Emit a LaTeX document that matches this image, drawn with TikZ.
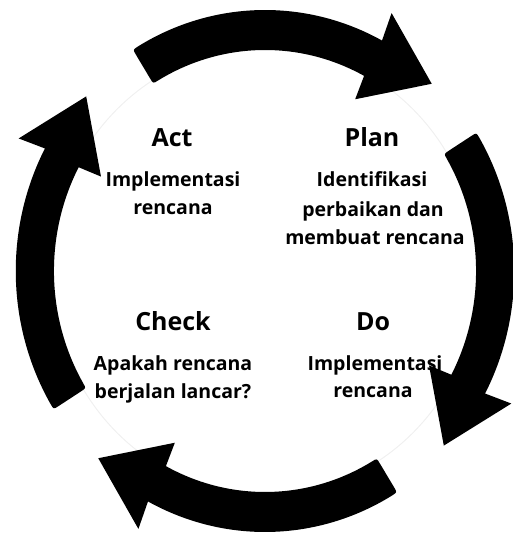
\documentclass[tikz,border=0pt]{standalone}
\usepackage{fontspec}
\setmainfont{Open Sans}

% One curved cycle arrow: #1 tail angle, #2 angle where the head starts, #3 tip angle
\newcommand\cyclearrow[3]{%
  \fill[ring]
    (#1-1.3:261) arc[start angle=#1-1.3, end angle=#2, radius=261]
    -- (#2+0.8:290) -- (#3:256) -- (#2-0.8:196) -- (#2:221)
    arc[start angle=#2, end angle=#1-1.5, radius=221]
    .. controls (#1:221) .. (#1:227) -- (#1:255)
    .. controls (#1:261) .. (#1-1.3:261) -- cycle;}

\begin{document}
\begin{tikzpicture}[x=1pt, y=1pt,
  phase/.style={font=\fontsize{25}{30}\selectfont\bfseries, anchor=base, inner sep=0pt},
  note/.style={font=\fontsize{19.5}{24}\selectfont\bfseries, anchor=base, inner sep=0pt},
  ring/.style={fill=black},
  guide/.style={draw=black!6, line width=1pt}]
\useasboundingbox (0,0) rectangle (513,533);

% quadrant texts
\node[phase] (act)   at (172,386) {Act};
\node[note]  (act1)  at (173,346) {Implementasi};
\node[note]  (act2)  at (173,318) {rencana};

\node[phase] (plan)  at (372,386) {Plan};
\node[note]  (plan1) at (372,346) {Identifikasi};
\node[note]  (plan2) at (373,316.5) {perbaikan dan};
\node[note]  (plan3) at (375,288) {membuat rencana};

\node[phase] (check)  at (173,202) {Check};
\node[note]  (check1) at (173,162) {Apakah rencana};
\node[note]  (check2) at (173,134) {berjalan lancar?};

\node[phase] (do)  at (373,202) {Do};
\node[note]  (do1) at (375,162) {Implementasi};
\node[note]  (do2) at (373,135) {rencana};

% the ring of four arrows, running clockwise
\begin{scope}[shift={(265,262)}, xscale=0.955]
  \path[guide] (0,0) circle[radius=224];
  \cyclearrow{122}{62}{47}
  \cyclearrow{32}{-28}{-43}
  \cyclearrow{-58}{-118}{-133}
  \cyclearrow{-148}{-208}{-223}
\end{scope}
\end{tikzpicture}
\end{document}
